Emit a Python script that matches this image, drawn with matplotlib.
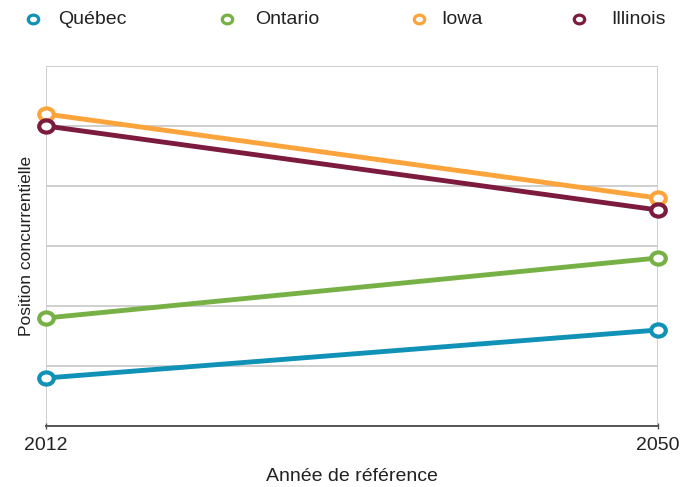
import matplotlib.pyplot as plt
from matplotlib.lines import Line2D
from matplotlib.path import Path
from matplotlib.transforms import Affine2D

plt.rcParams["font.family"] = ["Liberation Sans", "DejaVu Sans"]

years = [2012, 2050]
regions = ["Québec", "Ontario", "Iowa", "Illinois"]
quebec = [0.8, 1.6]
ontario = [1.8, 2.8]
iowa = [5.2, 3.8]
illinois = [5.0, 3.6]
series = [quebec, ontario, iowa, illinois]
colors = ["#1091b6", "#77b145", "#fca43c", "#7c1b3d"]

# slightly wide ring marker
ring = Path.unit_circle().transformed(Affine2D().scale(1.2, 1.0))

W, H = 680, 487
fig = plt.figure(figsize=(W / 100, H / 100), dpi=100)
ax = fig.add_axes([46 / W, 61 / H, 612 / W, 360 / H])

for name, vals, col in zip(regions, series, colors):
    ax.plot(years, vals, color=col, linewidth=3.5, marker=ring, markersize=10.5,
            markerfacecolor="white", markeredgecolor=col, markeredgewidth=3,
            solid_capstyle="round", zorder=3, clip_on=False)

ax.set_xlim(2012, 2050)
ax.set_ylim(0, 6)
ax.set_xticks(years)
ax.set_yticks(range(0, 7))
ax.set_yticklabels([])
ax.tick_params(axis="y", length=0)
ax.tick_params(axis="x", length=4.5, width=1, direction="inout", color="#555555",
               labelsize=14, labelcolor="#222222", pad=6)
ax.grid(True, color="#cccccc", linewidth=1.3)
for side in ["top", "right", "left"]:
    ax.spines[side].set_visible(False)
ax.spines["bottom"].set_color("#555555")
ax.spines["bottom"].set_linewidth(1.4)
ax.set_xlabel("Année de référence", fontsize=14, color="#222222", labelpad=10)
ax.set_ylabel("Position concurrentielle", fontsize=12.5, color="#222222", labelpad=5)

# legend row across the top
key_x = [33, 227, 419, 579]
text_x = [58, 255, 441, 611]
for name, col, kx, tx in zip(regions, colors, key_x, text_x):
    fig.add_artist(Line2D([kx / W], [1 - 19 / H], transform=fig.transFigure,
                          linestyle="none", marker=ring, markersize=7.5,
                          markerfacecolor="white", markeredgecolor=col,
                          markeredgewidth=2.3))
    fig.text(tx / W, 1 - 19 / H, name, fontsize=14, color="#222222",
             ha="left", va="center")

fig.savefig("out.png", dpi=100)
